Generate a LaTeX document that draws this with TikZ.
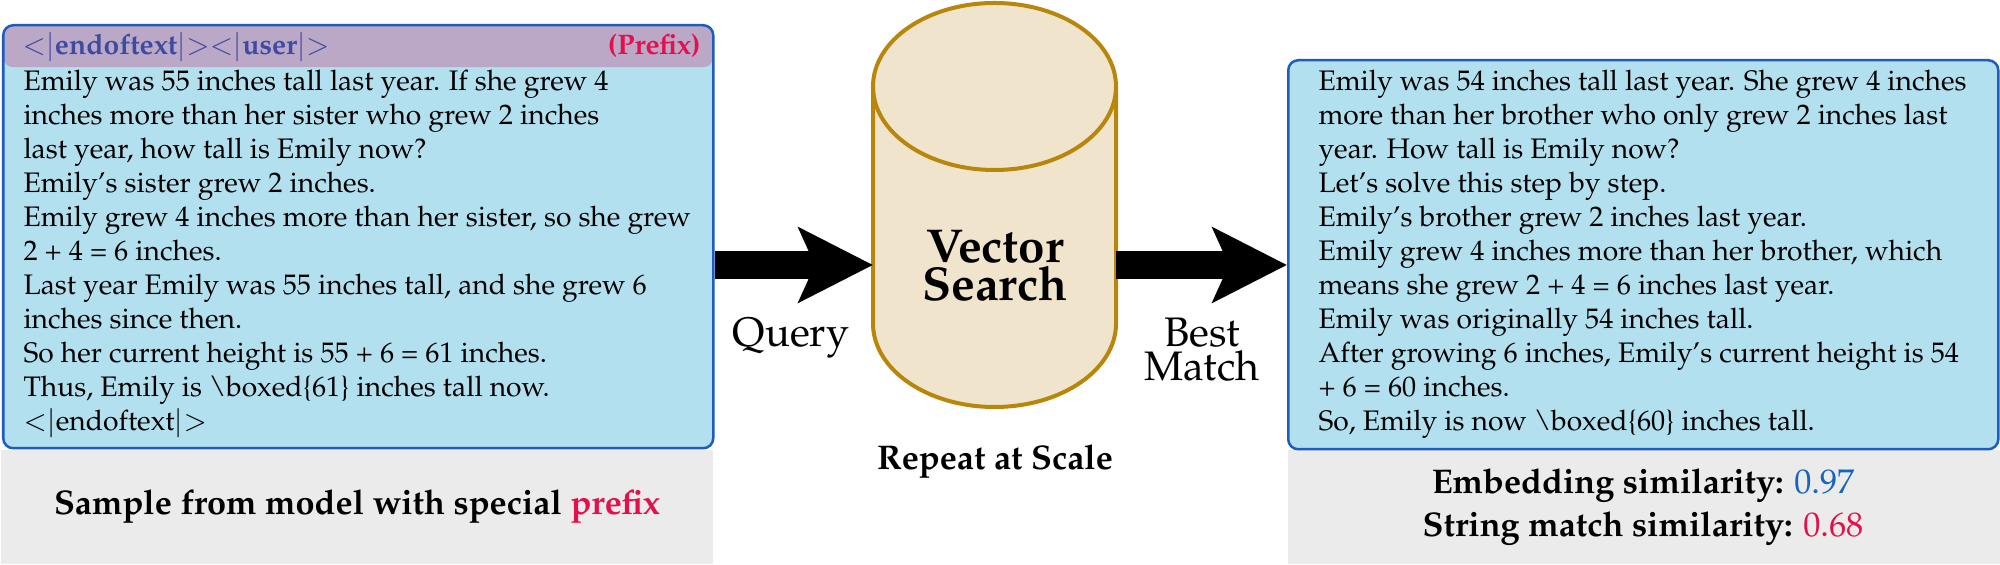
\documentclass[tikz,border=0pt]{standalone}
\usepackage[T1]{fontenc}
\usepackage{mathpazo}
\usetikzlibrary{positioning, arrows.meta}

\definecolor{boxblue}{HTML}{B3E0EE}
\definecolor{boxedge}{HTML}{1E5CBE}
\definecolor{hdrpurple}{HTML}{BBA8C6}
\definecolor{tokblue}{HTML}{3D4BA3}
\definecolor{pfxred}{HTML}{E3104B}
\definecolor{labelgrey}{HTML}{EBEBEB}
\definecolor{dbfill}{HTML}{F0E5CC}
\definecolor{dbedge}{HTML}{B8860B}
\definecolor{simblue}{HTML}{1565C0}

\tikzset{
  textbox/.style={draw=boxedge, fill=boxblue, line width=1pt, rounded corners=4pt,
    anchor=north west, inner sep=0pt, minimum width=284pt},
  greybox/.style={fill=labelgrey, anchor=south west, inner sep=0pt, minimum height=45.6pt},
  body/.style={font=\fontsize{11.3}{13.6}\selectfont, align=left, inner sep=0pt, anchor=north west},
  lbl/.style={font=\fontsize{13.7}{16}\selectfont\bfseries, inner sep=0pt, anchor=base},
  dbstyle/.style={draw=dbedge, fill=dbfill, line width=1.6pt},
  fatarrow/.style={-{Stealth[length=29.6pt, width=29.6pt, inset=6.4pt]}, line width=11.2pt},
}

\begin{document}
\begin{tikzpicture}[x=0.4pt, y=0.4pt]
    \useasboundingbox (0,0) rectangle (2000,565);

    % caption strips
    \node[greybox, minimum width=284.8pt] (samplebg) at (0,0) {};
    \node[greybox, minimum width=285.2pt] (matchbg) at (1287,0) {};

    % sampled text, with the prefix header
    \node[textbox, minimum height=169.2pt,
      path picture={\fill[hdrpurple] (path picture bounding box.north west)
        rectangle ([yshift=-16.8pt]path picture bounding box.north east);}] (sample) at (2,541) {};
    \node[body, anchor=base west, text=tokblue] (tok) at (22,510)
      {${<}|$\textbf{endoftext}$|{>}{<}|$\textbf{user}$|{>}$};
    \node[body, anchor=base east, text=pfxred] (pfx) at (701,510) {\textbf{(Prefix)}};
    \node[body] (sampletxt) at (23,500) {\rule{0pt}{10pt}Emily was 55 inches tall last year. If she grew 4\\
      inches more than her sister who grew 2 inches\\
      last year, how tall is Emily now?\\
      Emily's sister grew 2 inches.\\
      Emily grew 4 inches more than her sister, so she grew\\
      2 + 4 = 6 inches.\\
      Last year Emily was 55 inches tall, and she grew 6\\
      inches since then.\\
      So her current height is 55 + 6 = 61 inches.\\
      Thus, Emily is \textbackslash boxed\{61\} inches tall now.\\
      ${<}|$endoftext$|{>}$};

    % best match
    \node[textbox, minimum height=155.6pt] (match) at (1287,506) {};
    \node[body] (matchtxt) at (1318,500) {\rule{0pt}{10pt}Emily was 54 inches tall last year. She grew 4 inches\\
      more than her brother who only grew 2 inches last\\
      year. How tall is Emily now?\\
      Let's solve this step by step.\\
      Emily's brother grew 2 inches last year.\\
      Emily grew 4 inches more than her brother, which\\
      means she grew 2 + 4 = 6 inches last year.\\
      Emily was originally 54 inches tall.\\
      After growing 6 inches, Emily's current height is 54\\
      + 6 = 60 inches.\\
      So, Emily is now \textbackslash boxed\{60\} inches tall.};

    % database
    \node[minimum width=97.2pt, minimum height=161.6pt, inner sep=0pt, outer sep=0pt] (db) at (994.5,360) {};
    \filldraw[dbstyle] ([yshift=-33.4pt]db.north west) -- ([yshift=33.4pt]db.south west)
      arc[start angle=180, end angle=360, x radius=48.6pt, y radius=33.4pt]
      -- ([yshift=-33.4pt]db.north east)
      arc[start angle=0, end angle=180, x radius=48.6pt, y radius=33.4pt] -- cycle;
    \draw[dbstyle, fill=none] ([yshift=-33.4pt]db.north west)
      arc[start angle=180, end angle=360, x radius=48.6pt, y radius=33.4pt];
    \node[font=\fontsize{19}{15.2}\selectfont\bfseries, align=center, anchor=north, inner sep=0pt] (dblbl)
      at (995,340.5) {\rule{0pt}{15pt}Vector\\Search};
    \coordinate (mid) at (995,300);

    \draw[fatarrow] (sample.east |- mid) -- (db.west |- mid);
    \draw[fatarrow] (db.east |- mid) -- (match.west |- mid);

    \node[font=\fontsize{16.5}{13.6}\selectfont, anchor=base, inner sep=0pt] (query) at (791,218) {Query};
    \node[font=\fontsize{16.5}{13.6}\selectfont, align=center, anchor=north, inner sep=0pt] (best)
      at (1202,254) {\rule{0pt}{14pt}Best\\Match};

    \node[lbl] (repeat) at (995,95) {Repeat at Scale};
    \node[lbl] (samplelbl) at (357,50) {Sample from model with special \textcolor{pfxred}{prefix}};
    \node[lbl] (emb) at (1643,71) {Embedding similarity: \textcolor{simblue}{\mdseries 0.97}};
    \node[lbl] (strm) at (1643,28) {String match similarity: \textcolor{pfxred}{\mdseries 0.68}};
\end{tikzpicture}
\end{document}
